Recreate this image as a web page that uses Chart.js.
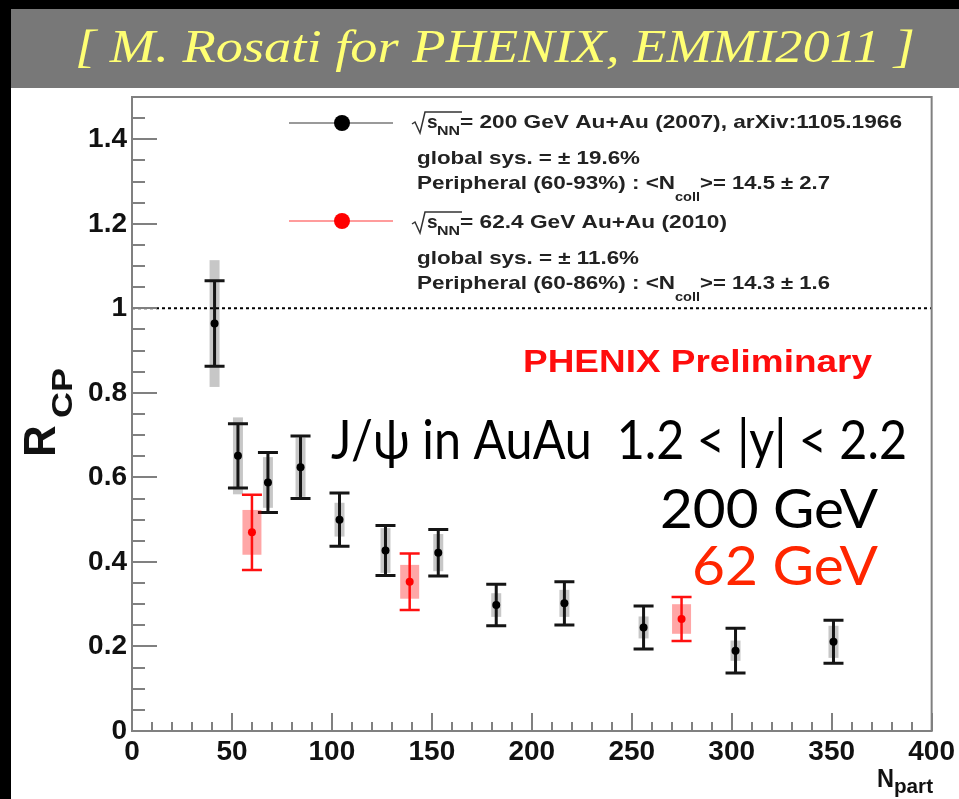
<!DOCTYPE html>
<html>
<head>
<meta charset="utf-8">
<script src="https://cdn.jsdelivr.net/npm/chart.js@4.4.0/dist/chart.umd.min.js"></script>
<style>
  body { margin: 0; background: #000; }
  #rcp { display: block; }
</style>
</head>
<body>
<canvas id="rcp" width="959" height="799"></canvas>
<script>
// J/psi R_CP vs N_part, forward rapidity
const npart200 = [41.3, 53.0, 68.0, 84.3, 103.8, 126.8, 153.2, 182.2, 216.3, 255.9, 301.9, 350.9];
const rcp200   = [0.964, 0.651, 0.588, 0.624, 0.500, 0.427, 0.422, 0.298, 0.302, 0.245, 0.190, 0.211];
const stat200  = [0.101, 0.076, 0.071, 0.074, 0.063, 0.059, 0.055, 0.049, 0.051, 0.051, 0.053, 0.051];
const sys200   = [0.150, 0.091, 0.060, 0.070, 0.040, 0.053, 0.044, 0.028, 0.032, 0.026, 0.024, 0.038];

const npart62 = [60.0, 138.9, 274.9];
const rcp62   = [0.470, 0.353, 0.265];
const stat62  = [0.089, 0.067, 0.052];
const sys62   = [0.053, 0.040, 0.035];

const xTicks = [0, 50, 100, 150, 200, 250, 300, 350, 400];
const yTicks = [0, 0.2, 0.4, 0.6, 0.8, 1, 1.2, 1.4];

const bannerText = '[ M. Rosati for PHENIX, EMMI2011 ]';
const rootFont = '"Liberation Sans", Arial, sans-serif';

function fitText(ctx, str, x, y, w) {
  const m = ctx.measureText(str).width;
  ctx.save();
  ctx.translate(x, y);
  ctx.scale(w / m, 1);
  ctx.fillText(str, 0, 0);
  ctx.restore();
}

function drawErrors(ctx, xs, ys, n, r, stat, sys, o) {
  for (let i = 0; i < n.length; i++) {
    const px = xs.getPixelForValue(n[i]);
    const sTop = ys.getPixelForValue(r[i] + sys[i]);
    const sBot = ys.getPixelForValue(r[i] - sys[i]);
    ctx.fillStyle = o.box;
    ctx.fillRect(px - o.boxHalf, sTop, o.boxHalf * 2, sBot - sTop);
  }
  ctx.strokeStyle = o.line;
  ctx.lineWidth = o.width;
  for (let i = 0; i < n.length; i++) {
    const px = xs.getPixelForValue(n[i]);
    const hi = ys.getPixelForValue(r[i] + stat[i]);
    const lo = ys.getPixelForValue(r[i] - stat[i]);
    ctx.beginPath();
    ctx.moveTo(px, hi); ctx.lineTo(px, lo);
    ctx.moveTo(px - 10, hi); ctx.lineTo(px + 10, hi);
    ctx.moveTo(px - 10, lo); ctx.lineTo(px + 10, lo);
    ctx.stroke();
  }
}

function radical(ctx, x, base) {
  ctx.beginPath();
  ctx.moveTo(x, base - 4);
  ctx.lineTo(x + 3, base - 6);
  ctx.lineTo(x + 8, base + 5);
  ctx.lineTo(x + 13, base - 16);
  ctx.lineTo(x + 50, base - 16);
  ctx.stroke();
}

function legendEntry(ctx, base, energy, sysText, periph, ncoll) {
  ctx.strokeStyle = '#333';
  ctx.lineWidth = 1.5;
  radical(ctx, 412, base);
  ctx.font = 'bold 19px ' + rootFont;
  ctx.fillText('s', 427, base);
  ctx.font = 'bold 12px ' + rootFont;
  fitText(ctx, 'NN', 437, base + 7, 23);
  ctx.font = 'bold 19px ' + rootFont;
  fitText(ctx, energy.text, 460, base, energy.w);
  fitText(ctx, sysText.text, 417, base + 36, sysText.w);
  fitText(ctx, periph, 417, base + 61, 258);
  ctx.font = 'bold 12px ' + rootFont;
  fitText(ctx, 'coll', 675, base + 73, 25);
  ctx.font = 'bold 19px ' + rootFont;
  fitText(ctx, ncoll, 700, base + 61, 130);
}

const rcpDecor = {
  id: 'rcpDecor',
  beforeDraw(chart) {
    const ctx = chart.ctx;
    ctx.save();
    ctx.fillStyle = '#000';
    ctx.fillRect(0, 0, 959, 799);
    ctx.fillStyle = '#787878';
    ctx.fillRect(11, 9, 948, 79);
    ctx.fillStyle = '#fff';
    ctx.fillRect(11, 88, 948, 711);
    ctx.fillStyle = '#ffff73';
    ctx.font = 'italic 46px "Liberation Serif", serif';
    fitText(ctx, bannerText, 75, 62, 840);
    ctx.restore();
  },
  beforeDatasetsDraw(chart) {
    const ctx = chart.ctx;
    const xs = chart.scales.x, ys = chart.scales.y;
    ctx.save();
    drawErrors(ctx, xs, ys, npart200, rcp200, stat200, sys200,
      { box: 'rgba(0,0,0,0.22)', boxHalf: 5, line: '#151515', width: 3 });
    drawErrors(ctx, xs, ys, npart62, rcp62, stat62, sys62,
      { box: 'rgba(255,0,0,0.35)', boxHalf: 9.5, line: '#ff1010', width: 2.5 });
    ctx.restore();
  },
  afterDraw(chart) {
    const ctx = chart.ctx;
    const { left, right, top, bottom } = chart.chartArea;
    const xs = chart.scales.x, ys = chart.scales.y;
    ctx.save();

    // reference line at R_CP = 1
    ctx.strokeStyle = '#000';
    ctx.lineWidth = 2;
    ctx.setLineDash([3, 3]);
    const y1 = ys.getPixelForValue(1);
    ctx.beginPath(); ctx.moveTo(left, y1); ctx.lineTo(right, y1); ctx.stroke();
    ctx.setLineDash([]);

    // frame and inward ticks
    ctx.strokeStyle = '#808080';
    ctx.lineWidth = 2;
    ctx.strokeRect(left, top, right - left, bottom - top);
    ctx.beginPath();
    for (let v = 0; v <= 1.5001; v += 0.05) {
      const py = Math.round(ys.getPixelForValue(v));
      const major = Math.abs(v / 0.2 - Math.round(v / 0.2)) < 1e-6;
      ctx.moveTo(left, py); ctx.lineTo(left + (major ? 25 : 13), py);
    }
    for (let v = 0; v <= 400; v += 10) {
      const px = Math.round(xs.getPixelForValue(v));
      ctx.moveTo(px, bottom); ctx.lineTo(px, bottom - (v % 50 === 0 ? 18 : 9));
    }
    ctx.stroke();

    // legend
    ctx.strokeStyle = '#9a9a9a';
    ctx.lineWidth = 2;
    ctx.beginPath(); ctx.moveTo(289, 123); ctx.lineTo(393, 123); ctx.stroke();
    ctx.fillStyle = '#000';
    ctx.beginPath(); ctx.arc(342, 123, 8, 0, Math.PI * 2); ctx.fill();
    ctx.strokeStyle = '#ff9c9c';
    ctx.beginPath(); ctx.moveTo(289, 221); ctx.lineTo(393, 221); ctx.stroke();
    ctx.fillStyle = '#ff0000';
    ctx.beginPath(); ctx.arc(342, 221, 8, 0, Math.PI * 2); ctx.fill();

    ctx.fillStyle = '#222';
    legendEntry(ctx, 128,
      { text: '= 200 GeV Au+Au (2007), arXiv:1105.1966', w: 442 },
      { text: 'global sys. = \u00b1 19.6%', w: 223 },
      'Peripheral (60-93%) : <N', '>= 14.5 \u00b1 2.7');
    legendEntry(ctx, 228,
      { text: '= 62.4 GeV Au+Au (2010)', w: 267 },
      { text: 'global sys. = \u00b1 11.6%', w: 222 },
      'Peripheral (60-86%) : <N', '>= 14.3 \u00b1 1.6');

    ctx.fillStyle = '#ff0d0d';
    ctx.font = 'bold 31px ' + rootFont;
    fitText(ctx, 'PHENIX Preliminary', 523, 372, 349);

    // annotations
    ctx.fillStyle = '#000';
    ctx.font = '54px Lato, sans-serif';
    fitText(ctx, 'J/\u03c8 in AuAu  1.2 < |y| < 2.2', 331, 459, 576);
    fitText(ctx, '200 GeV', 660, 528, 218);
    ctx.fillStyle = '#ff2600';
    fitText(ctx, '62 GeV', 692, 585, 186);

    // axis titles
    ctx.fillStyle = '#111';
    ctx.save();
    ctx.translate(55, 457);
    ctx.rotate(-Math.PI / 2);
    ctx.font = 'bold 44px ' + rootFont;
    ctx.fillText('R', 0, 0);
    ctx.font = 'bold 30px ' + rootFont;
    fitText(ctx, 'CP', 39, 17, 50);
    ctx.restore();
    ctx.font = 'bold 26px ' + rootFont;
    fitText(ctx, 'N', 877, 787, 17);
    ctx.font = 'bold 21px ' + rootFont;
    fitText(ctx, 'part', 894, 793, 39);

    ctx.restore();
  }
};

const tickFont = { family: rootFont, weight: 'bold', size: 28 };

new Chart(document.getElementById('rcp'), {
  type: 'scatter',
  data: {
    datasets: [
      {
        label: '200 GeV',
        data: npart200.map((n, i) => ({ x: n, y: rcp200[i] })),
        backgroundColor: '#000',
        borderWidth: 0,
        pointRadius: 4
      },
      {
        label: '62 GeV',
        data: npart62.map((n, i) => ({ x: n, y: rcp62[i] })),
        backgroundColor: '#ff0000',
        borderWidth: 0,
        pointRadius: 4
      }
    ]
  },
  options: {
    responsive: false,
    animation: false,
    layout: { padding: { top: 97, right: 26, left: 0, bottom: 0 } },
    plugins: { legend: { display: false }, tooltip: { enabled: false } },
    scales: {
      x: {
        type: 'linear',
        min: 0, max: 400,
        afterBuildTicks: s => { s.ticks = xTicks.map(v => ({ value: v })); },
        afterFit: s => { s.height = 68; },
        grid: { display: false, drawTicks: false },
        border: { display: false },
        ticks: { font: tickFont, color: '#111', padding: 4, maxRotation: 0 }
      },
      y: {
        type: 'linear',
        min: 0, max: 1.5,
        afterBuildTicks: s => { s.ticks = yTicks.map(v => ({ value: v })); },
        afterFit: s => { s.width = 132; },
        grid: { display: false, drawTicks: false },
        border: { display: false },
        ticks: { font: tickFont, color: '#111', padding: 5, callback: v => String(+v.toFixed(1)) }
      }
    }
  },
  plugins: [rcpDecor]
});
</script>
</body>
</html>
